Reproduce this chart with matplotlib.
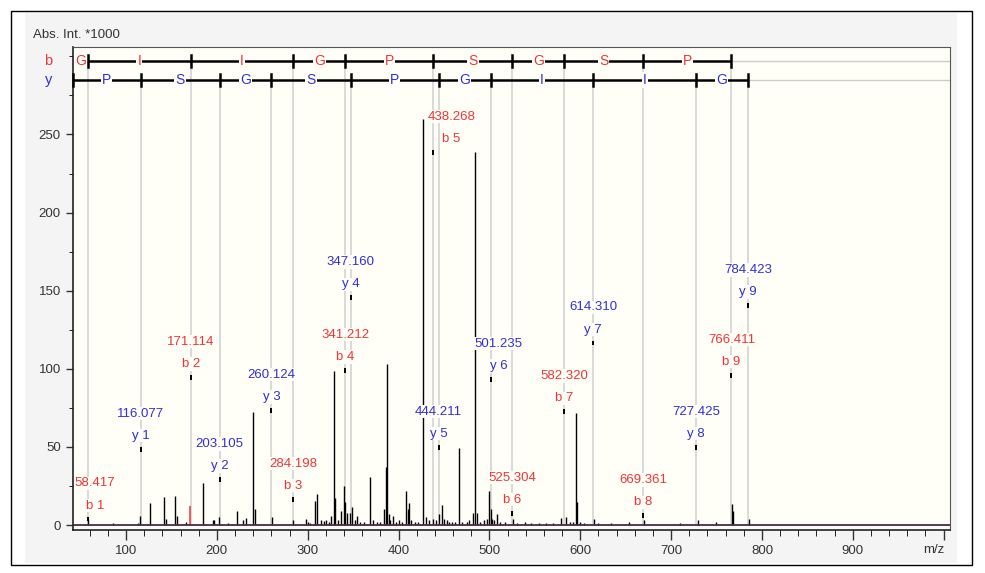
import matplotlib.pyplot as plt
from matplotlib.patches import Rectangle
from matplotlib.ticker import MultipleLocator

plt.rcParams['font.family'] = ['Liberation Sans', 'DejaVu Sans']

# spectrum peaks (m/z, intensity in thousands)
peak_mz = [58.6, 85.4, 112.8, 115.6, 126.4, 142.1, 143.6, 153.8, 156.4, 166.0,
           185.0, 195.2, 197.2, 202.4, 212.0, 222.7, 228.9, 231.9, 240.0, 241.8,
           260.2, 283.9, 297.8, 300.5, 302.0, 307.7, 310.6, 315.0, 318.0, 320.5,
           323.0, 326.0, 328.6, 329.7, 333.0, 337.0, 339.6, 341.2, 343.2, 346.2,
           349.1, 352.0, 354.6, 358.0, 362.0, 368.1, 372.0, 376.0, 380.0, 383.9,
           385.7, 386.8, 389.4, 391.0, 393.8, 397.0, 401.0, 404.0, 408.5, 410.2,
           411.3, 414.0, 418.0, 421.0, 426.7, 430.0, 433.0, 437.7, 441.0, 444.3,
           448.0, 450.5, 453.0, 456.0, 459.0, 462.0, 466.3, 470.0, 475.0, 478.0,
           481.7, 484.2, 486.0, 490.0, 494.0, 497.0, 499.3, 501.2, 503.0, 505.0,
           508.4, 512.0, 517.0, 525.6, 530.0, 539.6, 546.0, 555.0, 562.0, 570.0,
           578.7, 584.3, 589.0, 592.0, 595.3, 596.5, 600.0, 604.0, 615.4, 620.0,
           633.7, 653.8, 670.3, 709.9, 729.7, 749.8, 767.4, 768.2, 785.7]
peak_int = [4, 1.5, 1, 6, 14, 18, 4, 18.5, 6, 2,
            27, 3, 3, 5, 1.5, 9, 3, 4.5, 72.6, 10,
            5, 3, 4, 2, 1.5, 15.5, 20, 3, 2.5, 3,
            2, 6, 98.7, 17, 3, 9, 25, 15, 8, 8,
            11.5, 3, 6, 2, 2, 30.5, 3, 2, 2, 10,
            37, 103, 7, 3, 6, 2, 3, 2, 22, 10,
            14, 3, 2, 2, 259.6, 5, 3, 4, 3, 7,
            13, 4, 3, 2, 2, 2, 49, 2, 2, 3,
            8, 238.5, 8, 2, 3, 4, 22, 10, 4, 3,
            7, 2, 2, 4, 1.5, 2, 1.5, 1.5, 1.5, 1.5,
            4.7, 5, 2, 2, 71.6, 15, 2, 1.5, 4, 1.5,
            1, 2, 3, 1, 3, 2, 13.5, 9, 4]

red_mz = [170.1]
red_int = [12]

sequence = "GIIGPSGSP"
b_mz = [58.417, 171.114, 284.198, 341.212, 438.268, 525.304, 582.320, 669.361, 766.411]
b_mark = [5.3, 96, 18, 100.4, 240, 9, 74, 7.5, 97.4]
y_mz = [116.077, 203.105, 260.124, 347.160, 444.211, 501.235, 614.310, 727.425, 784.423]
y_mark = [50, 30.6, 74.8, 147, 51.3, 94.7, 118, 51.3, 142]

RED = '#ee3535'
BLUE = '#3030d8'
BG = '#fffff8'
XMIN, XMAX = 41.3, 1007
YMIN, YMAX = -3.2, 306

fig = plt.figure(figsize=(9.85, 5.73), dpi=100)
fig.patches.append(Rectangle((25 / 985, 1 - 563 / 573), 932 / 985, 550 / 573,
                             transform=fig.transFigure, facecolor='#f4f4f4',
                             edgecolor='none', zorder=-10))
fig.patches.append(Rectangle((11 / 985, 1 - 565 / 573), 961 / 985, 554 / 573,
                             transform=fig.transFigure, fill=False,
                             edgecolor='black', lw=1, zorder=10))

ax = fig.add_axes([72.7 / 985, 1 - 530 / 573, 877.3 / 985, 483 / 573])
ax.set_facecolor(BG)
ax.set_xlim(XMIN, XMAX)
ax.set_ylim(YMIN, YMAX)

b_row = 0.9716
y_row = 0.9317
b_row_data = YMIN + b_row * (YMAX - YMIN)
y_row_data = YMIN + y_row * (YMAX - YMIN)

# guide lines from ladder to baseline
ax.vlines(b_mz, 0, b_row_data, color='#cfcfcf', lw=1.1, zorder=1)
ax.vlines(y_mz, 0, y_row_data, color='#cfcfcf', lw=1.1, zorder=1)

# spectrum
ax.vlines(peak_mz, 0, peak_int, color='black', lw=1.0, zorder=3)
ax.vlines(red_mz, 0, red_int, color=RED, lw=1.1, zorder=3)
ax.axhline(0, color='#502848', lw=1.3, zorder=4)

# sequence ladders
trans = ax.get_xaxis_transform()
tick_h = 0.012


def ladder(pos, letters, row, color, start_tick):
    x0 = pos[0] if not start_tick else XMIN
    ax.plot([x0, pos[-1]], [row, row], color='black', lw=1.8, transform=trans,
            zorder=5, solid_capstyle='butt', clip_on=False)
    ax.plot([pos[-1], XMAX], [row, row], color='#cccccc', lw=1, transform=trans, zorder=2)
    ticks = ([XMIN] if start_tick else []) + list(pos)
    for t in ticks:
        ax.plot([t, t], [row - tick_h, row + tick_h], color='black', lw=1.8,
                transform=trans, zorder=5, clip_on=False)
    edges = [XMIN] + list(pos)
    for i, letter in enumerate(letters):
        mid = (edges[i] + edges[i + 1]) / 2
        ax.text(mid, row, letter, transform=trans, ha='center', va='center',
                color=color, fontsize=10, zorder=6,
                bbox=dict(facecolor=BG, edgecolor='none', pad=0.8))


ladder(b_mz, sequence, b_row, RED, False)
ladder(y_mz, sequence[::-1], y_row, BLUE, True)
ax.text(-0.028, b_row, 'b', transform=ax.transAxes, color=RED, fontsize=10.5,
        ha='center', va='center')
ax.text(-0.028, y_row, 'y', transform=ax.transAxes, color=BLUE, fontsize=10.5,
        ha='center', va='center')

# fragment annotations
nudge = {('b', 1): 5, ('b', 5): 13, ('y', 6): 6}


def annotate(mzs, marks, kind, color):
    for n, (mz, h) in enumerate(zip(mzs, marks), start=1):
        ax.vlines(mz, h - 3.0, h, color='black', lw=1.4, zorder=6)
        dx = nudge.get((kind, n), 0)
        box = dict(facecolor=BG, edgecolor='none', pad=0.5)
        ax.annotate(f'{kind} {n}', xy=(mz, h), xytext=(dx, 8), textcoords='offset points',
                    ha='center', va='center', color=color, fontsize=9.5, zorder=7, bbox=box)
        ax.annotate(f'{mz:.3f}', xy=(mz, h), xytext=(dx, 24), textcoords='offset points',
                    ha='center', va='center', color=color, fontsize=9.5, zorder=7, bbox=box)


annotate(b_mz, b_mark, 'b', RED)
annotate(y_mz, y_mark, 'y', BLUE)

# axes styling
ax.xaxis.set_major_locator(MultipleLocator(100))
ax.xaxis.set_minor_locator(MultipleLocator(20))
ax.yaxis.set_major_locator(MultipleLocator(50))
ax.yaxis.set_minor_locator(MultipleLocator(25))
ax.set_yticks([0, 50, 100, 150, 200, 250])
xt = list(range(100, 1001, 100))
ax.set_xticks(xt)
ax.set_xticklabels([str(v) for v in xt[:-1]] + [''])
ax.tick_params(axis='both', which='major', labelsize=9.5, labelcolor='#333333',
               color='#333333', width=1)
ax.tick_params(axis='x', which='major', length=7)
ax.tick_params(axis='x', which='minor', length=4)
ax.tick_params(axis='y', which='major', length=5)
ax.tick_params(axis='y', which='minor', length=3)
for side in ['left', 'bottom']:
    ax.spines[side].set_color('#222222')
    ax.spines[side].set_linewidth(1.2)
for side in ['top', 'right']:
    ax.spines[side].set_color('#555555')

ax.text(1001, -0.042, 'm/z', transform=trans, ha='right', va='center', fontsize=9.5,
        color='#333333')
fig.text(33 / 985, 1 - 35 / 573, 'Abs. Int. *1000', fontsize=9.5, color='#333333',
         ha='left', va='center')

fig.savefig('out.png', dpi=100)
